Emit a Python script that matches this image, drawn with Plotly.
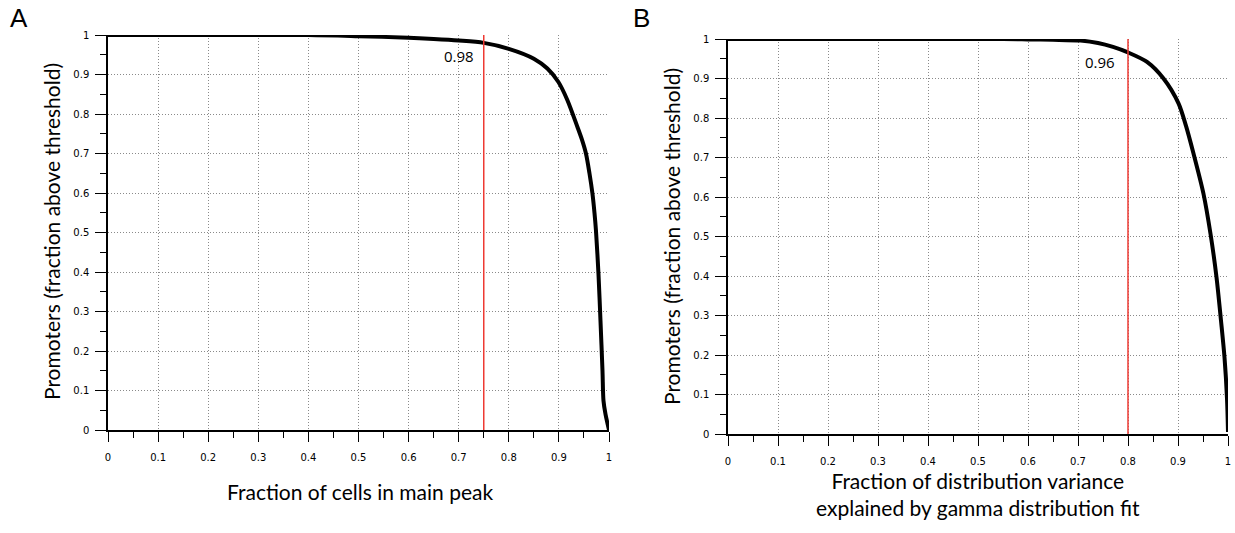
import plotly.graph_objects as go

W, H = 1235, 533

# Panel A data
a_x = [0, 0.40, 0.50, 0.60, 0.65, 0.70, 0.75, 0.80, 0.85, 0.877, 0.899, 0.917, 0.937,
       0.946, 0.954, 0.961, 0.967, 0.971, 0.974, 0.979, 0.983, 0.987, 0.989, 0.993, 1.0]
a_y = [1, 1.0, 0.997, 0.993, 0.99, 0.986, 0.98, 0.965, 0.94, 0.915, 0.881, 0.835, 0.767,
       0.735, 0.70, 0.65, 0.598, 0.55, 0.505, 0.395, 0.277, 0.15, 0.074, 0.04, 0.0]
a_thresh = 0.75
a_label = "0.98"

# Panel B data
b_x = [0, 0.55, 0.60, 0.65, 0.705, 0.74, 0.77, 0.80, 0.838, 0.871, 0.901, 0.916, 0.931, 0.951,
       0.965, 0.977, 0.986, 0.993, 0.998, 1.0]
b_y = [1, 1, 0.999, 0.998, 0.996, 0.99, 0.98, 0.966, 0.942, 0.90, 0.837, 0.78, 0.71, 0.608,
       0.507, 0.397, 0.287, 0.194, 0.09, 0.005]
b_thresh = 0.80
b_label = "0.96"

tick_vals = [round(i * 0.1, 1) for i in range(11)]
tick_text = ["0", "0.1", "0.2", "0.3", "0.4", "0.5", "0.6", "0.7", "0.8", "0.9", "1"]

def px_x(p):
    return p / W

def px_y(p):
    return 1 - p / H

fig = go.Figure()

fig.add_trace(go.Scatter(x=a_x, y=a_y, mode="lines", xaxis="x", yaxis="y",
                         line=dict(color="black", width=4, shape="spline", smoothing=0.8),
                         showlegend=False))
fig.add_trace(go.Scatter(x=[a_thresh, a_thresh], y=[0, 1], mode="lines", xaxis="x", yaxis="y",
                         line=dict(color="#ee3a33", width=1.5), showlegend=False))
fig.add_trace(go.Scatter(x=b_x, y=b_y, mode="lines", xaxis="x2", yaxis="y2",
                         line=dict(color="black", width=4, shape="spline", smoothing=0.8),
                         showlegend=False))
fig.add_trace(go.Scatter(x=[b_thresh, b_thresh], y=[0, 1], mode="lines", xaxis="x2", yaxis="y2",
                         line=dict(color="#ee3a33", width=1.5), showlegend=False))

tickfont = dict(family="DejaVu Sans, Verdana", size=10, color="black")

def axis(dom, anchor, standoff, ticklen):
    return dict(domain=dom, anchor=anchor, range=[0, 1.0], tickvals=tick_vals, ticktext=tick_text,
                showgrid=True, gridcolor="#8a8a8a", griddash="1px,2px", gridwidth=1,
                showline=True, linecolor="black", linewidth=1.5, ticks="outside", ticklen=ticklen,
                tickwidth=1.4, tickcolor="black", tickfont=tickfont, zeroline=False,
                ticklabelstandoff=standoff,
                minor=dict(dtick=0.05, ticks="outside", ticklen=6, tickwidth=1.4, tickcolor="black",
                           showgrid=False),
                automargin=False, fixedrange=True)

title_font = dict(family="Lato, Open Sans, sans-serif", size=21, color="black")

def ann(text, x, y, font, **kw):
    d = dict(text=text, x=px_x(x), y=px_y(y), xref="paper", yref="paper", showarrow=False,
             xanchor="center", yanchor="middle", font=font)
    d.update(kw)
    return d

annotations = [
    ann("A", 19, 18, dict(family="Liberation Sans, Arial", size=26, color="black")),
    ann("B", 641, 18, dict(family="Liberation Sans, Arial", size=26, color="black")),
    ann("Promoters (fraction above threshold)", 51, 232, title_font, textangle=-90),
    ann("Promoters (fraction above threshold)", 671, 237, title_font, textangle=-90),
    ann("Fraction of cells in main peak", 360, 491, title_font),
    ann("Fraction of distribution variance<br>explained by gamma distribution fit", 978, 494,
        title_font, align="center"),
    dict(text=a_label, x=0.70, y=0.947, xref="x", yref="y", showarrow=False,
         xanchor="center", yanchor="middle",
         font=dict(family="Open Sans, sans-serif", size=15, color="black")),
    dict(text=b_label, x=0.744, y=0.942, xref="x2", yref="y2", showarrow=False,
         xanchor="center", yanchor="middle",
         font=dict(family="Open Sans, sans-serif", size=15, color="black")),
]

fig.update_layout(
    width=W, height=H,
    margin=dict(l=0, r=0, t=0, b=0, autoexpand=False),
    paper_bgcolor="white", plot_bgcolor="white",
    xaxis=axis([px_x(108), px_x(609)], "y", 7, 10),
    yaxis=axis([px_y(430), px_y(35)], "x", 4, 11),
    xaxis2=axis([px_x(728), px_x(1228)], "y2", 7, 10),
    yaxis2=axis([px_y(434), px_y(39)], "x2", 4, 11),
    annotations=annotations,
    showlegend=False,
)

fig.write_html("out.html")
